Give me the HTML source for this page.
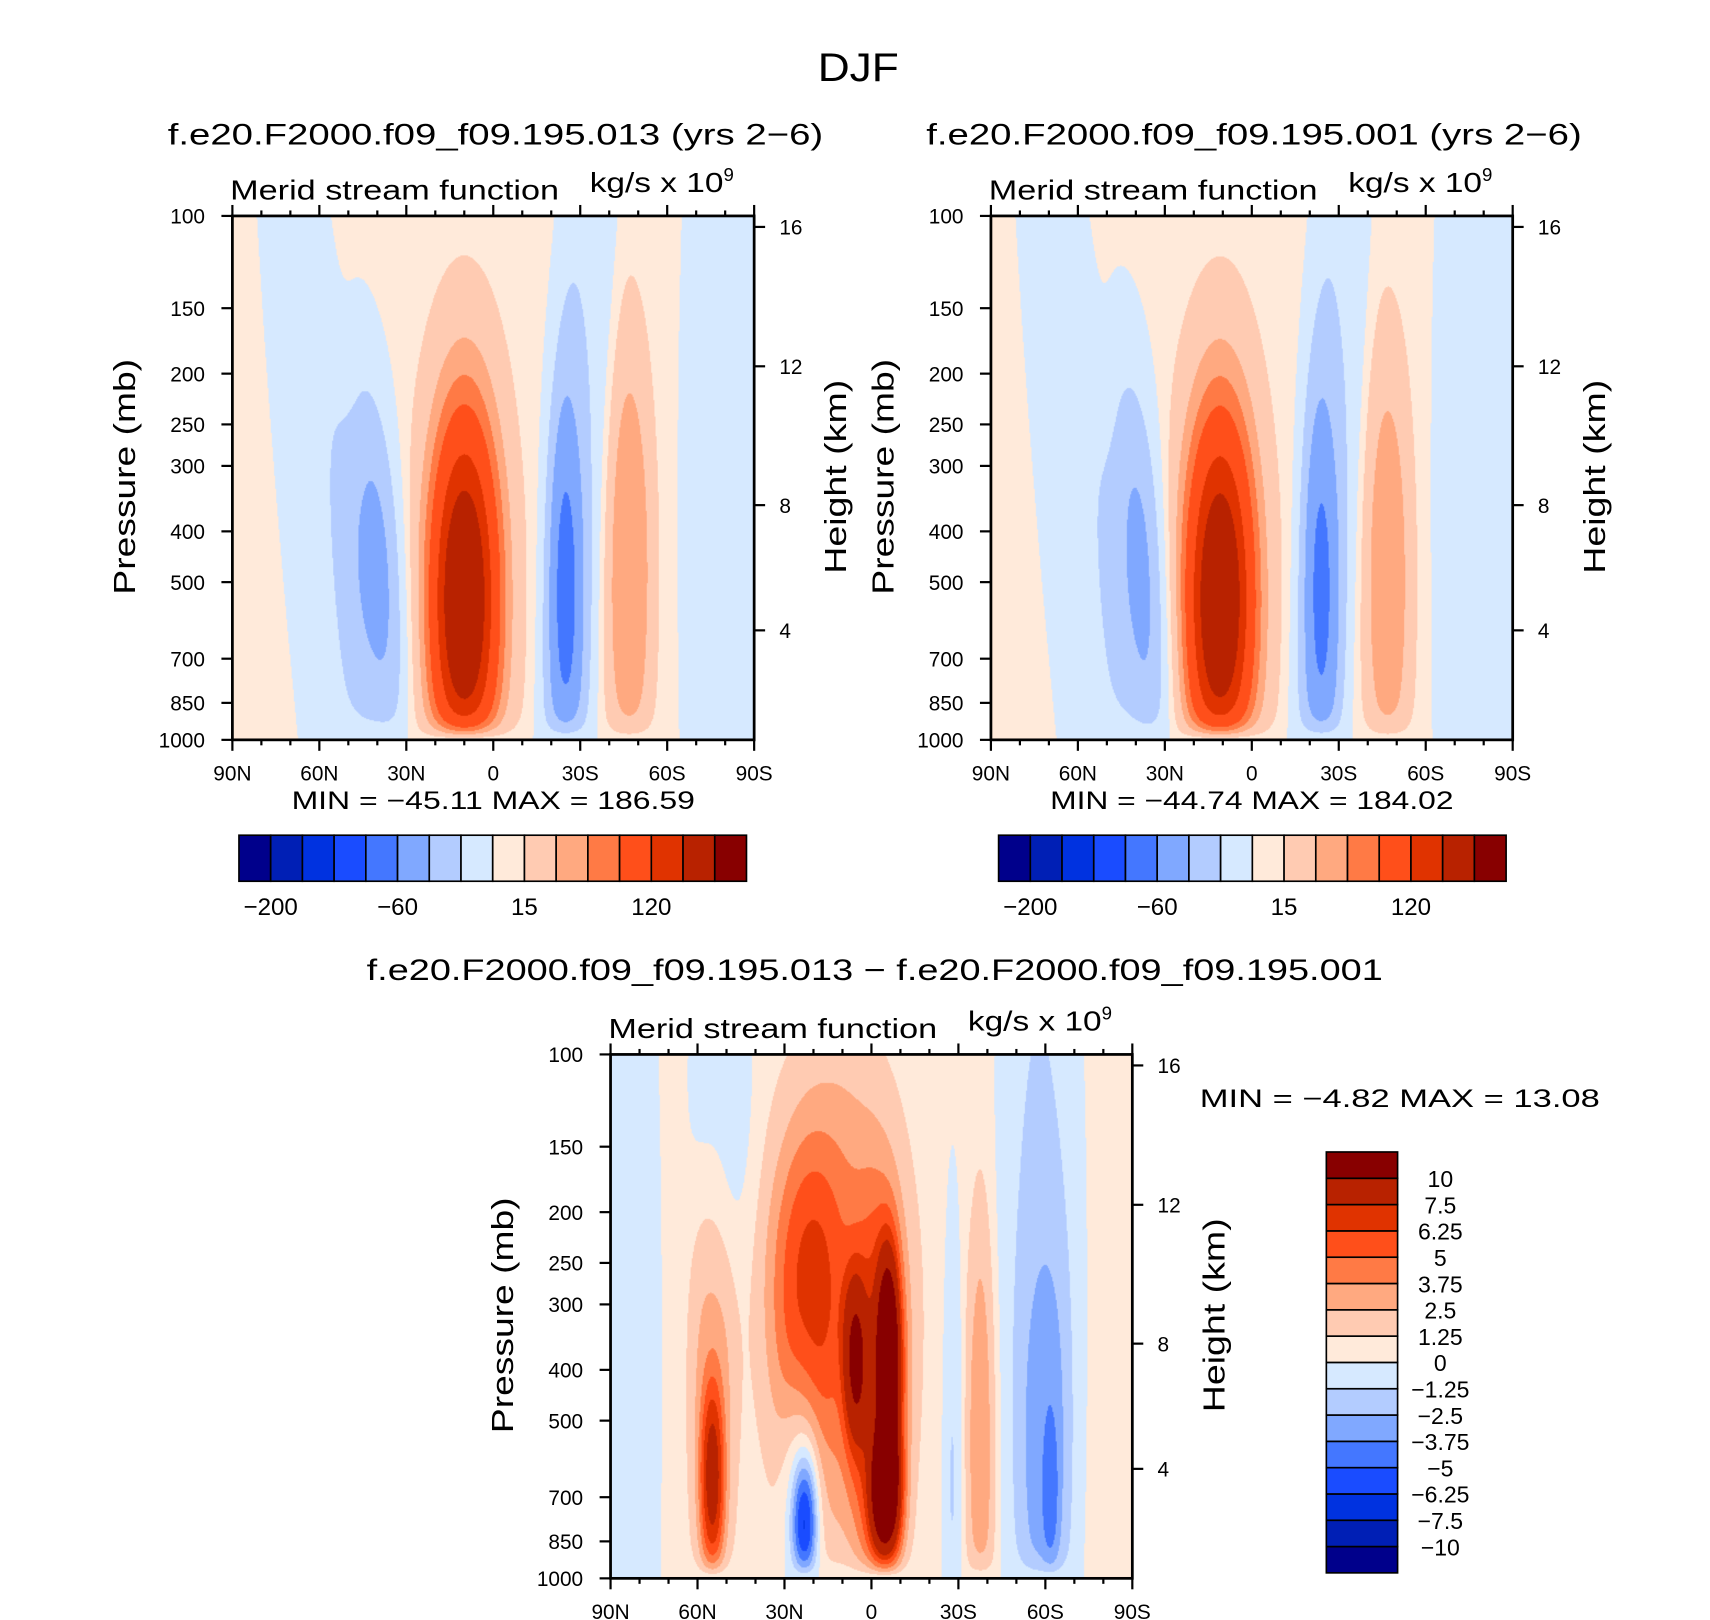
<!DOCTYPE html>
<html><head><meta charset="utf-8">
<style>
html,body{margin:0;padding:0;background:#fff;}
#wrap{position:relative;width:1560px;height:1478px;transform:scale(1.09615,1.09608);transform-origin:0 0;overflow:hidden;}
canvas{position:absolute;}
svg{position:absolute;left:0;top:0;}
text{font-family:"Liberation Sans",sans-serif;fill:#000;}
</style></head>
<body>
<div id="wrap">
<canvas id="c1" width="476" height="478" style="left:212px;top:197px"></canvas>
<canvas id="c2" width="476" height="478" style="left:904px;top:197px"></canvas>
<canvas id="c3" width="476" height="478" style="left:557px;top:962px"></canvas>
<svg id="ov" width="1560" height="1478" viewBox="0 0 1560 1478">
<text x="783" y="74" font-size="36" text-anchor="middle" textLength="74" lengthAdjust="spacingAndGlyphs">DJF</text>
</svg>
</div>
<script>
// ---- data ----
const colors = ["#00008b","#001fb5","#0032e0","#1a4cff","#4477ff","#80a8ff","#b3ccff","#d6e9ff","#ffeada","#ffcbb2","#ffa980","#ff7a45","#ff4f1a","#e03300","#b82200","#880000"];
const levelsFull = [-200,-150,-100,-80,-60,-40,-20,0,15,40,60,80,120,150,200];
const levelsDiff = [-10,-7.5,-6.25,-5,-3.75,-2.5,-1.25,0,1.25,2.5,3.75,5,6.25,7.5,10];
const fullBarLabels = ["-200","-60","15","120"];
const fullBarLabelIdx = [0,4,8,12];
const diffBarLabels = ["\u221210","\u22127.5","\u22126.25","\u22125","\u22123.75","\u22122.5","\u22121.25","0","1.25","2.5","3.75","5","6.25","7.5","10"];
const latTicks = [90,60,30,0,-30,-60,-90];
const latLabels = ["90N","60N","30N","0","30S","60S","90S"];
const presTicks = [100,150,200,250,300,400,500,700,850,1000];
const heightTicks = [16,12,8,4];
const heightFrac = [0.021,0.287,0.552,0.791];
// blobs: [lat, p(mb), amplitude, sigmaLat, sigmaLogP, shape, tilt]
const base1 = 5;
const blobs1 = [[60,400,-22,9,0.9,2,-15],[40,480,-52,7,0.28,1.2,-12],[10,540,195,9,0.27,1,0],[-28,400,-22,8,0.9,2,8],[-25,520,-50,5,0.3,1.2,0],[-47,480,55,6,0.33,1.3,0],[-82,400,-22,12,1.0,2.5,0]];
const base2 = 5;
const blobs2 = [[60,400,-22,9,0.9,2,-15],[38,500,-52,7,0.3,1.2,-12],[11,540,192,9,0.27,1,0],[-26,400,-22,8,0.9,2,8],[-24,520,-48,5,0.3,1.2,0],[-47,500,52,6,0.33,1.3,0],[-80,400,-22,12,1.0,2.5,0]];
const base3 = 0.5;
const blobs3 = [[85,400,-1.3,9,1.0,2,0],[52,120,-1.6,8,0.25,1.5,0],[55,450,2.5,6,0.35,1.5,0],[55,650,5.5,3,0.14,1.3,0],[12,300,3.5,18,0.35,1.5,0],[22,280,3,9,0.2,1.3,0],[6,380,5,3,0.12,1.2,0],[-6,380,8,3,0.15,1.2,0],[-5,700,8,4,0.1,1.3,0],[-3,500,4,7,0.3,1.5,0],[23,780,-6,3,0.09,1.2,0],[24,700,-2.5,5,0.18,1.3,0],[-38,550,2.7,4,0.35,1.5,0],[-28,600,-1.8,2.5,0.4,1.5,0],[-58,300,-1.8,11,0.9,2,0],[-60,550,-2,6,0.3,1.5,0],[-62,700,-1.5,2,0.12,1.3,0]];

// ---- rendering ----
function field(lat, lp, base, blobs){
  let v = base;
  for(const b of blobs){
    const lc = b[0] + b[6]*(lp - Math.log10(b[1]));
    const dx=(lat-lc)/b[3], dy=(lp-Math.log10(b[1]))/b[4];
    v += b[2]*Math.exp(-Math.pow((dx*dx+dy*dy)/2, b[5]));
  }
  return v*(1-Math.exp(-(3-lp)/0.025));
}
function hex(c){return [parseInt(c.substr(1,2),16),parseInt(c.substr(3,2),16),parseInt(c.substr(5,2),16)];}
const rgb = colors.map(hex);
function drawField(id, base, blobs, levels){
  const cv=document.getElementById(id), ctx=cv.getContext('2d');
  const W=cv.width,H=cv.height, img=ctx.createImageData(W,H);
  for(let y=0;y<H;y++){
    const lp = 2 + y/(H-1);
    for(let x=0;x<W;x++){
      const lat = 90 - x/(W-1)*180;
      const v = field(lat, lp, base, blobs);
      let i=0; while(i<levels.length && v>=levels[i]) i++;
      const c=rgb[i], o=(y*W+x)*4;
      img.data[o]=c[0];img.data[o+1]=c[1];img.data[o+2]=c[2];img.data[o+3]=255;
    }
  }
  ctx.putImageData(img,0,0);
}
drawField('c1',base1,blobs1,levelsFull);
drawField('c2',base2,blobs2,levelsFull);
drawField('c3',base3,blobs3,levelsDiff);

const NS="http://www.w3.org/2000/svg", ov=document.getElementById('ov');
function el(tag, attrs, parent){const e=document.createElementNS(NS,tag);for(const k in attrs)e.setAttribute(k,attrs[k]);(parent||ov).appendChild(e);return e;}
function txt(x,y,s,size,anchor,parent,len){const a={x:x,y:y,'font-size':size,'text-anchor':anchor||'middle'};
  if(len){a.textLength=len;a.lengthAdjust='spacingAndGlyphs';}
  const t=el('text',a,parent);t.textContent=s;return t;}

function axes(L,T,W,H,title,titleY,mmText,mmX,mmY){
  const g=el('g',{});
  
  
  const xs = lat => L + (90-lat)/180*W;
  const ys = p => T + (Math.log10(p)-2)*H;
  if(title){const t=txt(L+W/2+2,titleY,title,27,'middle',g,598);
  
  }
  const m=txt(L-2,T-15,"Merid stream function",25,'start',g,300);
  
  
  const u=el('text',{x:L+326,y:T-22,'font-size':25},g);
  
  
  const u1=el('tspan',{textLength:122,lengthAdjust:'spacingAndGlyphs'},u); u1.textContent="kg/s  x  10";
  const sup=el('tspan',{dy:-10,'font-size':17},u); sup.textContent="9";
  el('rect',{x:L,y:T,width:W,height:H,fill:'none',stroke:'#000','stroke-width':2.5},g);
  for(let lat=90;lat>=-90;lat-=10){
    const major = lat%30===0, len = major?10:5, x=xs(lat);
    el('line',{x1:x,y1:T+H,x2:x,y2:T+H+len,stroke:'#000','stroke-width':2},g);
    el('line',{x1:x,y1:T,x2:x,y2:T-len,stroke:'#000','stroke-width':2},g);
  }
  latTicks.forEach((lat,i)=>{const l=txt(xs(lat),T+H+37,latLabels[i],19,'middle',g);
    
    });
  presTicks.forEach(p=>{const y=ys(p);
    el('line',{x1:L-10,y1:y,x2:L,y2:y,stroke:'#000','stroke-width':2},g);
    const l=txt(L-25,y+7,String(p),19,'end',g);
    
    });
  heightTicks.forEach((h,i)=>{const y=T+heightFrac[i]*H;
    el('line',{x1:L+W,y1:y,x2:L+W+10,y2:y,stroke:'#000','stroke-width':2},g);
    const l=txt(L+W+23,y+7,String(h),19,'start',g);
    
    });
  const yl=txt(0,0,"Pressure  (mb)",28,'middle',g,215);
  yl.setAttribute('transform',`translate(${L-89},${T+H/2-1}) rotate(-90)`);
  
  
  const hl=txt(0,0,"Height  (km)",28,'middle',g,177);
  hl.setAttribute('transform',`translate(${L+W+84},${T+H/2-1}) rotate(-90)`);
  
  
  if(mmText){const mm=txt(mmX,mmY,mmText,23,'middle',g,368);
    
    }
}
axes(212,197,476,478,"f.e20.F2000.f09_f09.195.013  (yrs  2\u22126)",132,"MIN  =  \u221245.11    MAX  =  186.59",450,738);
axes(904,197,476,478,"f.e20.F2000.f09_f09.195.001  (yrs  2\u22126)",132,"MIN  =  \u221244.74    MAX  =  184.02",1142,738);
axes(557,962,476,478,"",0,null);
const dt=txt(798,894,"f.e20.F2000.f09_f09.195.013  \u2212  f.e20.F2000.f09_f09.195.001",27,'middle',null,927);


const mm3=txt(1277,1010,"MIN  =    \u22124.82    MAX  =    13.08",23,'middle',null,365);



function hbar(L,T,W,H){
  const g=el('g',{});
  
  
  const bw=W/colors.length;
  colors.forEach((c,i)=>{const r=el('rect',{x:L+i*bw,y:T,width:bw,height:H,fill:c,stroke:'#000','stroke-width':1.5},g);
    
    });
  fullBarLabels.forEach((s,i)=>{const l=txt(L+(fullBarLabelIdx[i]+1)*bw,T+H+31,s.replace('-','\u2212'),22,'middle',g);
    
    });
}
hbar(218,762,463,42);
hbar(911,762,463,42);
(function(){
  const L=1210,T=1051,W=65,H=384,g=el('g',{});
  
  
  const bh=H/colors.length;
  colors.forEach((c,i)=>{const r=el('rect',{x:L,y:T+H-(i+1)*bh,width:W,height:bh,fill:c,stroke:'#000','stroke-width':1.5},g);
    
    });
  diffBarLabels.forEach((s,i)=>{const l=txt(1314,T+H-(i+1)*bh+8,s,21,'middle',g);
    
    });
})();
</script>
</body></html>
